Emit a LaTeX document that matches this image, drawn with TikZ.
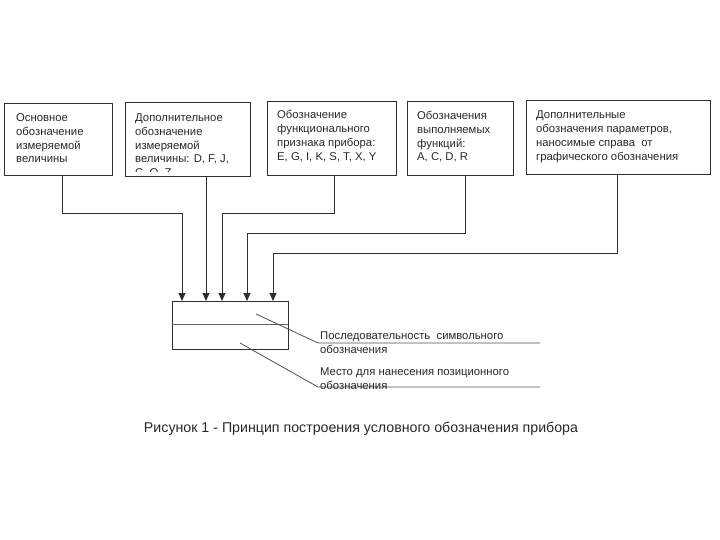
\documentclass[tikz,border=0pt]{standalone}
\usepackage{fontspec}
\setmainfont{Liberation Sans}
\usetikzlibrary{arrows.meta}
\definecolor{linec}{HTML}{303030}
\definecolor{txtc}{HTML}{282828}
\begin{document}
\begin{tikzpicture}[x=1pt,y=-1pt,
  box/.style={draw=linec, line width=1.1pt, anchor=north west, inner sep=0pt},
  btext/.style={anchor=north west, align=left, inner sep=0pt, text=txtc,
    font=\fontsize{11.3}{13.8}\selectfont},
  conn/.style={draw=linec, line width=0.9pt},
  arr/.style={conn, -{Triangle[length=8pt,width=7pt]}},
  leader/.style={draw=linec!85, line width=0.8pt},
  ltext/.style={anchor=north west, align=left, inner sep=0pt, text=txtc,
    font=\fontsize{11.3}{14}\selectfont}]
\useasboundingbox (0,0) rectangle (720,540);

% top boxes
\node[box, minimum width=108pt, minimum height=72pt] (b1) at (4,103) {};
\node[box, minimum width=125pt, minimum height=74pt] (b2) at (125,102) {};
\node[box, minimum width=129pt, minimum height=74pt] (b3) at (267,101) {};
\node[box, minimum width=106pt, minimum height=74pt] (b4) at (407,101) {};
\node[box, minimum width=184pt, minimum height=74pt] (b5) at (526,100) {};

\node[btext] (t1) at (16,113.5) {Основное\\обозначение\\измеряемой\\величины};
\coordinate (clipNW) at (126,103);
\coordinate (clipSE) at (249,172);
\begin{scope}
  \clip (clipNW) rectangle (clipSE);
  \node[btext] (t2) at (135,113.5) {Дополнительное\\обозначение\\измеряемой\\величины: D, F, J,\\С, Q, Z};
\end{scope}
\node[btext] (t3) at (277,110.5) {Обозначение\\функционального\\признака прибора:\\E, G, I, K, S, T, X, Y};
\node[btext] (t4) at (417,111) {Обозначения\\выполняемых\\функций:\\A, C, D, R};
\node[btext] (t5) at (536,111) {Дополнительные\\обозначения параметров,\\наносимые справа\ \ от\\графического обозначения};

% symbol box
\node[box, minimum width=116pt, minimum height=48pt] (sym) at (172,301) {};
\coordinate (mL) at (172,324);
\coordinate (mR) at (288,324);
\draw[draw=linec!75, line width=0.9pt] (mL) -- (mR);

% connector points
\coordinate (o1) at (62,175);
\coordinate (o2) at (206,176);
\coordinate (o3) at (334,175);
\coordinate (o4) at (465,175);
\coordinate (o5) at (617,174);
\coordinate (i1) at (182,301);
\coordinate (i2) at (206,301);
\coordinate (i3) at (222,301);
\coordinate (i4) at (247,301);
\coordinate (i5) at (273,301);
\coordinate (c1) at (182,213);
\coordinate (c3) at (222,213);
\coordinate (c4) at (247,233);
\coordinate (c5) at (273,253);

\draw[arr] (o1) |- (c1) -- (i1);
\draw[arr] (o2) -- (i2);
\draw[arr] (o3) |- (c3) -- (i3);
\draw[arr] (o4) |- (c4) -- (i4);
\draw[arr] (o5) |- (c5) -- (i5);

% leaders
\coordinate (l1s) at (256,314);
\coordinate (l1k) at (318,343);
\coordinate (l1e) at (540,343);
\coordinate (l2s) at (240,343);
\coordinate (l2k) at (318,387);
\coordinate (l2e) at (540,387);
\draw[leader] (l1s) -- (l1k) -- (l1e);
\draw[leader] (l2s) -- (l2k) -- (l2e);

\node[ltext] (lab1) at (320,332) {Последовательность\ \ символьного\\обозначения};
\node[ltext] (lab2) at (320,368) {Место для нанесения позиционного\\обозначения};

% caption
\node[anchor=base, inner sep=0pt, text=txtc, font=\fontsize{14.2}{17}\selectfont] (cap) at (361,432)
  {Рисунок 1 - Принцип построения условного обозначения прибора};
\end{tikzpicture}
\end{document}
